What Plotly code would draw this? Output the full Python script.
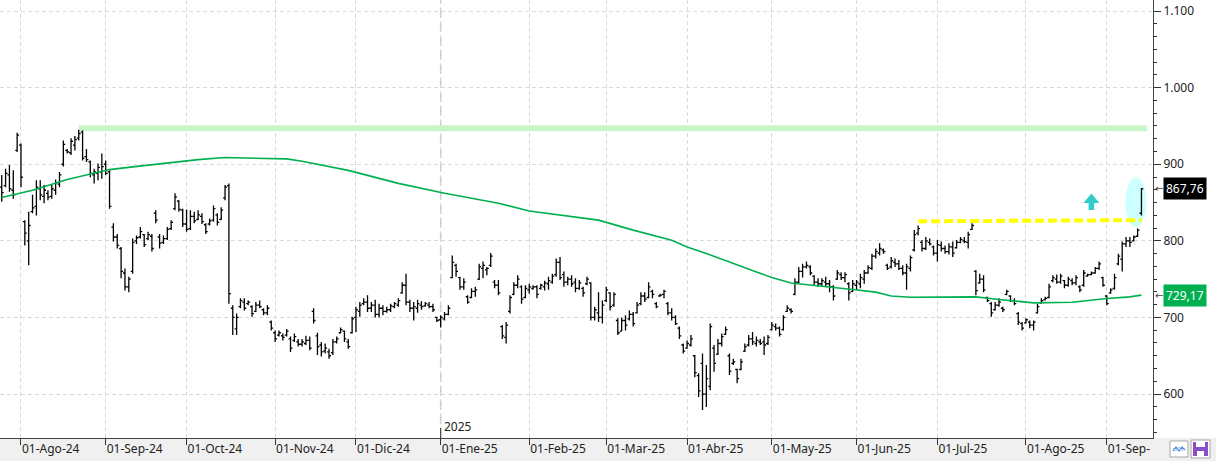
import pandas as pd
import plotly.graph_objects as go

# ---------------- data (daily OHLC) ----------------
opens = [
    870, 872, 886, 866, 918, 925, 825, 800, 838, 845, 868, 858, 862, 858, 866,
    874, 900, 918, 915, 925, 934, 942, 910, 903, 886, 888, 890, 900, 890, 818,
    805, 790, 758, 740, 760, 800, 805, 808, 803, 806, 836, 805, 798, 803, 816,
    842, 852, 840, 822, 816, 832, 828, 832, 821, 822, 827, 834, 828, 856, 872,
    712, 685, 714, 720, 718, 714, 708, 716, 710, 706, 694, 680, 677, 676, 677,
    672, 670, 668, 665, 666, 670, 708, 676, 664, 656, 655, 654, 668, 680, 682,
    668, 680, 700, 708, 718, 720, 712, 716, 704, 712, 708, 710, 714, 716, 732,
    742, 720, 712, 712, 716, 715, 716, 714, 700, 697, 698, 704, 752, 768, 752,
    740, 727, 726, 734, 750, 764, 762, 768, 746, 742, 688, 674, 708, 730, 742,
    740, 726, 736, 738, 740, 738, 740, 744, 746, 756, 772, 756, 746, 750, 746,
    738, 738, 744, 745, 700, 706, 700, 722, 732, 716, 696, 682, 696, 698, 704,
    706, 718, 728, 726, 734, 718, 728, 730, 718, 706, 700, 686, 664, 660, 664,
    650, 624, 640, 600, 610, 660, 652, 666, 678, 650, 640, 632, 632, 656, 664,
    672, 666, 668, 668, 666, 684, 688, 686, 684, 708, 710, 730, 746, 760, 766,
    766, 754, 746, 744, 746, 744, 740, 750, 756, 752, 744, 734, 742, 744, 750,
    758, 764, 780, 784, 788, 768, 766, 772, 770, 764, 758, 764, 788, 810, 798,
    790, 798, 792, 784, 794, 790, 786, 792, 791, 798, 800, 798, 815, 760, 745,
    750, 726, 718, 710, 716, 712, 730, 728, 722, 705, 692, 693, 694, 690, 706,
    719, 723, 726, 748, 750, 746, 748, 742, 748, 745, 740, 742, 754, 756, 758,
    764, 752, 728, 732, 738, 770, 776, 796, 800, 800, 806, 836,
]
highs = [
    886, 894, 899, 892, 941, 927, 827, 838, 860, 879, 879, 873, 866, 873, 880,
    890, 931, 920, 934, 937, 945, 944, 920, 905, 894, 901, 914, 905, 892, 823,
    809, 792, 764, 753, 803, 807, 818, 809, 812, 809, 840, 809, 807, 818, 827,
    862, 853, 842, 841, 840, 838, 840, 836, 823, 829, 846, 836, 844, 873, 875,
    716, 705, 725, 725, 722, 716, 720, 722, 712, 716, 696, 683, 683, 679, 685,
    675, 679, 672, 672, 676, 675, 712, 680, 668, 666, 659, 672, 675, 687, 683,
    672, 701, 714, 720, 725, 729, 720, 723, 718, 716, 714, 718, 720, 725, 746,
    757, 723, 720, 723, 721, 720, 720, 718, 701, 703, 707, 716, 781, 770, 753,
    751, 729, 738, 740, 770, 773, 766, 784, 749, 749, 690, 694, 729, 746, 755,
    742, 742, 744, 742, 742, 744, 748, 753, 757, 777, 779, 760, 753, 755, 751,
    749, 740, 753, 746, 714, 733, 722, 740, 733, 733, 699, 700, 703, 709, 707,
    720, 733, 733, 746, 736, 720, 731, 736, 720, 712, 703, 688, 666, 670, 677,
    651, 627, 653, 638, 692, 664, 672, 679, 688, 653, 646, 633, 646, 666, 677,
    681, 675, 672, 675, 677, 694, 692, 688, 703, 716, 712, 751, 766, 770, 773,
    768, 755, 751, 751, 753, 749, 742, 762, 759, 759, 746, 749, 749, 757, 762,
    768, 783, 790, 797, 790, 770, 779, 777, 775, 768, 770, 781, 814, 820, 801,
    805, 803, 794, 801, 799, 794, 797, 799, 801, 805, 805, 812, 823, 762, 757,
    755, 727, 720, 720, 725, 714, 736, 729, 725, 707, 694, 699, 696, 696, 718,
    725, 727, 744, 755, 756, 757, 749, 753, 751, 755, 742, 762, 757, 760, 766,
    773, 753, 729, 738, 757, 783, 799, 805, 805, 807, 816, 869,
]
lows = [
    851, 870, 864, 855, 916, 870, 794, 768, 836, 833, 853, 849, 853, 855, 860,
    870, 897, 914, 912, 918, 931, 905, 903, 883, 875, 879, 881, 886, 842, 799,
    790, 751, 735, 733, 757, 796, 803, 792, 801, 786, 823, 790, 796, 801, 814,
    840, 838, 818, 812, 814, 823, 827, 822, 809, 820, 825, 820, 827, 853, 718,
    677, 677, 712, 709, 716, 701, 707, 712, 703, 703, 683, 668, 675, 670, 675,
    655, 668, 662, 662, 664, 657, 692, 651, 649, 653, 646, 651, 666, 679, 668,
    659, 679, 681, 701, 716, 707, 707, 700, 700, 703, 706, 707, 712, 714, 731,
    716, 707, 696, 706, 710, 714, 712, 707, 694, 687, 696, 703, 751, 753, 736,
    736, 718, 725, 727, 749, 751, 755, 766, 738, 729, 672, 666, 705, 729, 738,
    718, 725, 731, 736, 725, 736, 735, 736, 744, 753, 749, 740, 742, 740, 733,
    736, 727, 742, 696, 696, 694, 692, 720, 709, 714, 677, 682, 683, 696, 688,
    705, 716, 720, 725, 725, 712, 727, 725, 703, 696, 690, 672, 653, 659, 662,
    622, 596, 579, 583, 605, 629, 651, 662, 677, 625, 638, 614, 631, 655, 662,
    664, 662, 664, 651, 664, 683, 683, 675, 683, 707, 705, 729, 744, 752, 764,
    755, 742, 740, 740, 740, 733, 722, 749, 749, 746, 722, 733, 736, 738, 744,
    757, 762, 777, 781, 783, 762, 764, 766, 762, 755, 736, 760, 786, 807, 786,
    788, 794, 781, 773, 786, 783, 782, 779, 790, 797, 797, 790, 814, 729, 744,
    733, 720, 701, 709, 714, 707, 729, 720, 716, 690, 683, 692, 686, 683, 705,
    718, 722, 725, 746, 744, 744, 738, 740, 742, 742, 733, 740, 753, 755, 757,
    762, 740, 716, 731, 736, 768, 760, 792, 792, 799, 805, 833,
]
closes = [
    863, 888, 868, 860, 938, 883, 810, 820, 843, 870, 860, 866, 857, 868, 876,
    886, 926, 916, 930, 932, 940, 908, 906, 888, 890, 896, 897, 888, 845, 805,
    794, 760, 740, 750, 798, 804, 812, 795, 808, 790, 827, 797, 803, 815, 824,
    857, 841, 822, 815, 832, 826, 834, 825, 812, 826, 842, 824, 840, 870, 731,
    700, 700, 722, 712, 720, 705, 716, 714, 706, 712, 686, 672, 680, 674, 682,
    660, 675, 665, 668, 670, 660, 696, 662, 655, 660, 650, 668, 672, 684, 672,
    662, 698, 710, 716, 720, 712, 716, 704, 712, 708, 710, 715, 718, 722, 742,
    720, 712, 714, 718, 714, 718, 714, 710, 696, 700, 704, 712, 772, 760, 740,
    746, 720, 734, 736, 766, 768, 764, 780, 742, 732, 676, 690, 726, 742, 750,
    724, 738, 740, 740, 730, 742, 745, 748, 754, 772, 752, 746, 750, 744, 738,
    745, 732, 750, 700, 710, 700, 716, 736, 714, 730, 680, 696, 690, 704, 692,
    716, 728, 724, 740, 730, 714, 729, 734, 706, 700, 692, 676, 656, 666, 672,
    628, 604, 600, 620, 688, 640, 666, 675, 684, 630, 642, 620, 642, 662, 672,
    668, 670, 666, 664, 674, 690, 686, 678, 700, 712, 708, 746, 760, 766, 768,
    758, 746, 744, 748, 744, 740, 728, 758, 752, 756, 732, 744, 746, 752, 758,
    765, 780, 786, 790, 786, 764, 774, 770, 764, 758, 766, 778, 808, 816, 790,
    800, 796, 784, 795, 790, 786, 792, 784, 798, 802, 799, 808, 820, 735, 750,
    736, 722, 706, 716, 720, 710, 734, 722, 718, 694, 686, 697, 690, 694, 714,
    722, 725, 740, 752, 746, 754, 742, 750, 745, 752, 736, 758, 756, 758, 764,
    770, 742, 718, 736, 752, 780, 796, 800, 798, 805, 814, 867.76,
]

# 200-session moving average, sampled along the green line (session number, value)
ma_sessions = [0, 8, 17, 25, 28, 34, 43, 51, 58, 67, 74, 78, 90, 103, 115, 129,
               137, 155, 164, 174, 178, 183, 188, 192, 196, 200, 205, 209, 215,
               221, 227, 231, 236, 253, 259, 268, 278, 287, 293, 296]
ma_values = [856.5, 866, 880, 890, 893, 896.5, 901.7, 906, 908.7, 908.2, 907, 904,
             892, 875, 862, 849, 839, 827, 814, 800.8, 792, 783.4, 774.7, 766.8,
             759.4, 752, 745, 743, 740, 736.4, 733, 728, 726.4, 726.8, 723.4, 719,
             719.8, 724.7, 726.8, 729.17]

month_labels = ["01-Ago-24", "01-Sep-24", "01-Oct-24", "01-Nov-24", "01-Dic-24",
                "01-Ene-25", "01-Feb-25", "01-Mar-25", "01-Abr-25", "01-May-25",
                "01-Jun-25", "01-Jul-25", "01-Ago-25", "01-Sep-"]
y_tick_vals = [600, 700, 800, 900, 1000, 1100]
y_tick_text = ["600", "700", "800", "900", "1.000", "1.100"]

resistance_level = 947          # light green band
resistance_start_session = 20
breakout_levels = [825.5, 827]  # yellow dashed line (start, end)
breakout_start_session = 238
arrow_session, arrow_level = 283, 849.5
highlight_low, highlight_high = 818, 883

# ---------------- derived positions ----------------
sessions = pd.bdate_range("2024-07-25", periods=len(closes))
x = list(range(len(sessions)))
first_of_month = []
seen = set()
for i, d in enumerate(sessions):
    if (d.year, d.month) not in seen:
        seen.add((d.year, d.month))
        first_of_month.append(i)
tick_vals = first_of_month[1:]          # skip the partial July 2024
year_start = next(i for i, d in enumerate(sessions) if d.year == 2025)
last = x[-1]

FONT = "Noto Sans"
fig = go.Figure()
fig.add_trace(go.Ohlc(
    x=x, open=opens, high=highs, low=lows, close=closes,
    increasing=dict(line=dict(color="#000000", width=1.3)),
    decreasing=dict(line=dict(color="#000000", width=1.3)),
    tickwidth=0.5, hoverinfo="skip", showlegend=False))
fig.add_trace(go.Scatter(
    x=ma_sessions, y=ma_values, mode="lines",
    line=dict(color="#00b050", width=1.6), hoverinfo="skip", showlegend=False))

shapes = []
# bottom grey band of the window
shapes.append(dict(type="rect", xref="paper", yref="paper", x0=0, x1=1216 / 1153,
                   y0=-23 / 438, y1=0, fillcolor="#f0f0f0", line_width=0, layer="below"))
# year separator
shapes.append(dict(type="line", xref="x", yref="paper", x0=year_start, x1=year_start,
                   y0=0, y1=1, line=dict(color="#c8c8c8", width=1.5, dash="10px,4px"),
                   layer="between"))
shapes.append(dict(type="line", xref="x", yref="paper", x0=year_start, x1=year_start,
                   ysizemode="pixel", yanchor=0, y0=0, y1=10,
                   line=dict(color="#333333", width=1)))
# resistance band
shapes.append(dict(type="line", xref="x", yref="y", x0=resistance_start_session,
                   x1=last + 1.5, y0=resistance_level, y1=resistance_level,
                   line=dict(color="#c9f5c9", width=6), layer="between"))
# highlight ellipse
shapes.append(dict(type="circle", xref="x", yref="y", xsizemode="pixel", xanchor=last,
                   x0=-16, x1=5, y0=highlight_low, y1=highlight_high,
                   fillcolor="#ccffff", line_width=0, layer="between"))
# breakout dashed line
shapes.append(dict(type="line", xref="x", yref="y", x0=breakout_start_session, x1=last,
                   y0=breakout_levels[0], y1=breakout_levels[1],
                   line=dict(color="#ffff00", width=4, dash="9px,4px"), layer="between"))
# up arrow
shapes.append(dict(type="path", xref="x", yref="y", xsizemode="pixel", ysizemode="pixel",
                   xanchor=arrow_session, yanchor=arrow_level,
                   path="M -2.8,-7 L -2.8,0 L -8,0 L 0,9.5 L 8,0 L 2.8,0 L 2.8,-7 Z",
                   fillcolor="#33cccc", line_width=0, layer="above"))
# bottom-right toolbar icons
shapes.append(dict(type="rect", xref="paper", yref="paper", xsizemode="pixel", ysizemode="pixel",
                   xanchor=1, yanchor=0, x0=17, x1=35, y0=-3, y1=-19,
                   fillcolor="#ffffff", line=dict(color="#a6a6a6", width=1)))
shapes.append(dict(type="path", xref="paper", yref="paper", xsizemode="pixel", ysizemode="pixel",
                   xanchor=1, yanchor=0,
                   path="M 20,-13 L 23,-9 L 26,-13 L 29,-9 L 32,-12",
                   line=dict(color="#5b8fd6", width=1.3)))
shapes.append(dict(type="path", xref="paper", yref="paper", xsizemode="pixel", ysizemode="pixel",
                   xanchor=1, yanchor=0,
                   path="M 20,-10 L 23,-13 L 26,-9 L 29,-13 L 32,-10",
                   line=dict(color="#9dbbe6", width=1)))
shapes.append(dict(type="rect", xref="paper", yref="paper", xsizemode="pixel", ysizemode="pixel",
                   xanchor=1, yanchor=0, x0=38, x1=57, y0=-2, y1=-20,
                   fillcolor="#ffffff", line=dict(color="#a6a6a6", width=1)))
shapes.append(dict(type="rect", xref="paper", yref="paper", xsizemode="pixel", ysizemode="pixel",
                   xanchor=1, yanchor=0, x0=40, x1=55, y0=-4, y1=-18,
                   fillcolor="#8a4fc8", line_width=0))
shapes.append(dict(type="rect", xref="paper", yref="paper", xsizemode="pixel", ysizemode="pixel",
                   xanchor=1, yanchor=0, x0=43, x1=52, y0=-4, y1=-9,
                   fillcolor="#ffffff", line_width=0))
shapes.append(dict(type="rect", xref="paper", yref="paper", xsizemode="pixel", ysizemode="pixel",
                   xanchor=1, yanchor=0, x0=44, x1=51, y0=-13, y1=-18,
                   fillcolor="#ffffff", line_width=0))


def fmt(v):
    return f"{v:.2f}".replace(".", ",")


annotations = [
    dict(text="2025", xref="x", yref="paper", x=year_start, y=0, xanchor="left",
         yanchor="bottom", xshift=1, yshift=1, showarrow=False,
         font=dict(family=FONT, size=12, color="#222222")),
    dict(text=fmt(closes[-1]), xref="paper", yref="y", x=1, y=closes[-1], xanchor="left",
         xshift=10, showarrow=False, bgcolor="#000000", borderpad=2,
         font=dict(family=FONT, size=12, color="#ffffff")),
    dict(text=fmt(ma_values[-1]), xref="paper", yref="y", x=1, y=ma_values[-1], xanchor="left",
         xshift=10, showarrow=False, bgcolor="#00b050", borderpad=2,
         font=dict(family=FONT, size=12, color="#ffffff")),
    dict(text="←", xref="paper", yref="y", x=1, y=closes[-1], xanchor="left", xshift=0,
         showarrow=False, font=dict(family="DejaVu Sans", size=10, color="#444444")),
    dict(text="←", xref="paper", yref="y", x=1, y=ma_values[-1], xanchor="left", xshift=0,
         showarrow=False, font=dict(family="DejaVu Sans", size=10, color="#444444")),
]

fig.update_layout(
    width=1216, height=461,
    margin=dict(l=0, r=63, t=0, b=23, pad=0),
    paper_bgcolor="#ffffff", plot_bgcolor="#ffffff",
    showlegend=False, shapes=shapes, annotations=annotations,
    font=dict(family=FONT, size=12, color="#222222"),
    xaxis=dict(
        range=[-0.45, 299.0], rangeslider=dict(visible=False),
        tickmode="array", tickvals=tick_vals, ticktext=month_labels,
        ticks="outside", ticklen=6, tickcolor="#333333",
        ticklabelposition="outside right",
        tickfont=dict(family=FONT, size=12, color="#222222"),
        showgrid=True, gridcolor="#d9d9d9", griddash="4px,3px", gridwidth=1,
        showline=True, linecolor="#444444", linewidth=1, zeroline=False,
    ),
    yaxis=dict(
        side="right", range=[542.6, 1114.4],
        tickmode="array", tickvals=y_tick_vals, ticktext=y_tick_text,
        ticks="outside", ticklen=7, tickcolor="#333333",
        tickfont=dict(family=FONT, size=12, color="#222222"),
        showgrid=True, gridcolor="#d9d9d9", griddash="4px,3px", gridwidth=1,
        showline=True, linecolor="#444444", linewidth=1, zeroline=False,
        minor=dict(tick0=600, dtick=100 / 6, ticks="outside", ticklen=3,
                   tickcolor="#333333", showgrid=False),
    ),
)

fig.write_html("out.html")
